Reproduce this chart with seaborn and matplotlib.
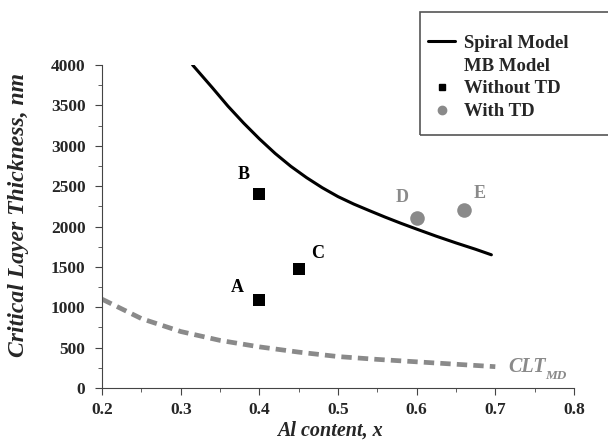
import pandas as pd
import seaborn as sns
import matplotlib.pyplot as plt
from matplotlib.lines import Line2D
from matplotlib.patches import Rectangle
from matplotlib.ticker import MultipleLocator, FormatStrFormatter

# Spiral model curve
spiral_x = [0.315, 0.34, 0.36, 0.38, 0.40, 0.42, 0.44, 0.46, 0.48, 0.50, 0.52, 0.54, 0.56, 0.58, 0.60, 0.625, 0.65, 0.675, 0.695]
spiral_y = [4000, 3720, 3490, 3280, 3085, 2905, 2745, 2605, 2480, 2370, 2278, 2196, 2116, 2040, 1968, 1880, 1797, 1718, 1650]

# CLT_MD (dashed) curve
md_x = [0.2, 0.25, 0.3, 0.35, 0.4, 0.45, 0.5, 0.55, 0.6, 0.65, 0.7]
md_y = [1100, 860, 700, 590, 510, 445, 390, 355, 325, 295, 265]

# data points
pt_labels = ["A", "B", "C", "D", "E"]
pt_x = [0.4, 0.4, 0.45, 0.6, 0.66]
pt_y = [1090, 2400, 1480, 2100, 2200]
pt_group = ["Without TD", "Without TD", "Without TD", "With TD", "With TD"]
lab_x = [0.372, 0.380, 0.474, 0.582, 0.680]
lab_y = [1240, 2640, 1670, 2356, 2403]

sns.set_style("ticks")
plt.rcParams["font.family"] = ["Liberation Serif", "DejaVu Serif"]
plt.rcParams["font.weight"] = "bold"

fig = plt.figure(figsize=(6.08, 4.42), dpi=100)
ax = fig.add_axes([0.168, 0.122, 0.776, 0.731])

gray = "#8a8a8a"
sns.lineplot(x=spiral_x, y=spiral_y, color="black", lw=2.2, ax=ax)
sns.lineplot(x=md_x, y=md_y, color=gray, lw=3.4, ax=ax)
ax.lines[-1].set_linestyle((0, (2.2, 1.3)))

df = pd.DataFrame({"x": pt_x, "y": pt_y, "g": pt_group})
sq = df[df.g == "Without TD"]
cr = df[df.g == "With TD"]
sns.scatterplot(data=sq, x="x", y="y", marker="s", s=85, color="black", linewidth=0, ax=ax)
sns.scatterplot(data=cr, x="x", y="y", marker="o", s=110, color=gray, linewidth=0, ax=ax)

for lab, x, y in zip(pt_labels, lab_x, lab_y):
    c = gray if lab in ("D", "E") else "black"
    ax.text(x, y, lab, fontsize=13, fontweight="bold", color=c, ha="center", va="center")

t = ax.text(0.716, 255, "CLT", fontsize=14.5, fontweight="bold", style="italic", color=gray,
            ha="left", va="center")
ax.annotate("MD", xy=(1, 0), xycoords=t, xytext=(0, 1), textcoords="offset points",
            fontsize=9.5, fontweight="bold", style="italic", color=gray, ha="left", va="center")

ax.set_xlim(0.2, 0.8)
ax.set_ylim(0, 4000)
ax.xaxis.set_major_locator(MultipleLocator(0.1))
ax.xaxis.set_minor_locator(MultipleLocator(0.05))
ax.yaxis.set_major_locator(MultipleLocator(500))
ax.yaxis.set_minor_locator(MultipleLocator(250))
ax.xaxis.set_major_formatter(FormatStrFormatter("%.1f"))
ax.tick_params(which="both", direction="out", color="#444444", labelsize=12.5, pad=5)
ax.tick_params(which="major", length=5)
ax.tick_params(which="minor", length=3)
ax.tick_params(axis="y", pad=7)
sns.despine(ax=ax)
for s in ("left", "bottom"):
    ax.spines[s].set_color("#444444")

ax.set_xlabel("Al content, x", fontsize=14.5, fontweight="bold", style="italic")
ax.xaxis.set_label_coords(0.483, -0.1)
ax.set_ylabel("Critical Layer Thickness, nm", fontsize=17, fontweight="bold", style="italic")
ax.yaxis.set_label_coords(-0.155, 0.536)

# legend
handles = [
    Line2D([], [], color="black", lw=2.2),
    Line2D([], [], color="none"),
    Line2D([], [], marker="s", color="black", ls="none", markersize=5),
    Line2D([], [], marker="o", color=gray, ls="none", markersize=6),
]
labels = ["Spiral Model", "MB Model", "Without TD", "With TD"]
fig.legend(handles, labels, loc="upper left", bbox_to_anchor=(0.683, 0.951),
           frameon=False, prop={"weight": "bold", "size": 13.5},
           handlelength=1.4, handletextpad=0.5, labelspacing=0.3, borderpad=0.2)
fig.add_artist(Rectangle((420 / 608, 1 - 135 / 442), 0.35, 123 / 442,
                         transform=fig.transFigure, fill=False, ec="#555555", lw=1.2))

fig.savefig("out.png", dpi=100)
